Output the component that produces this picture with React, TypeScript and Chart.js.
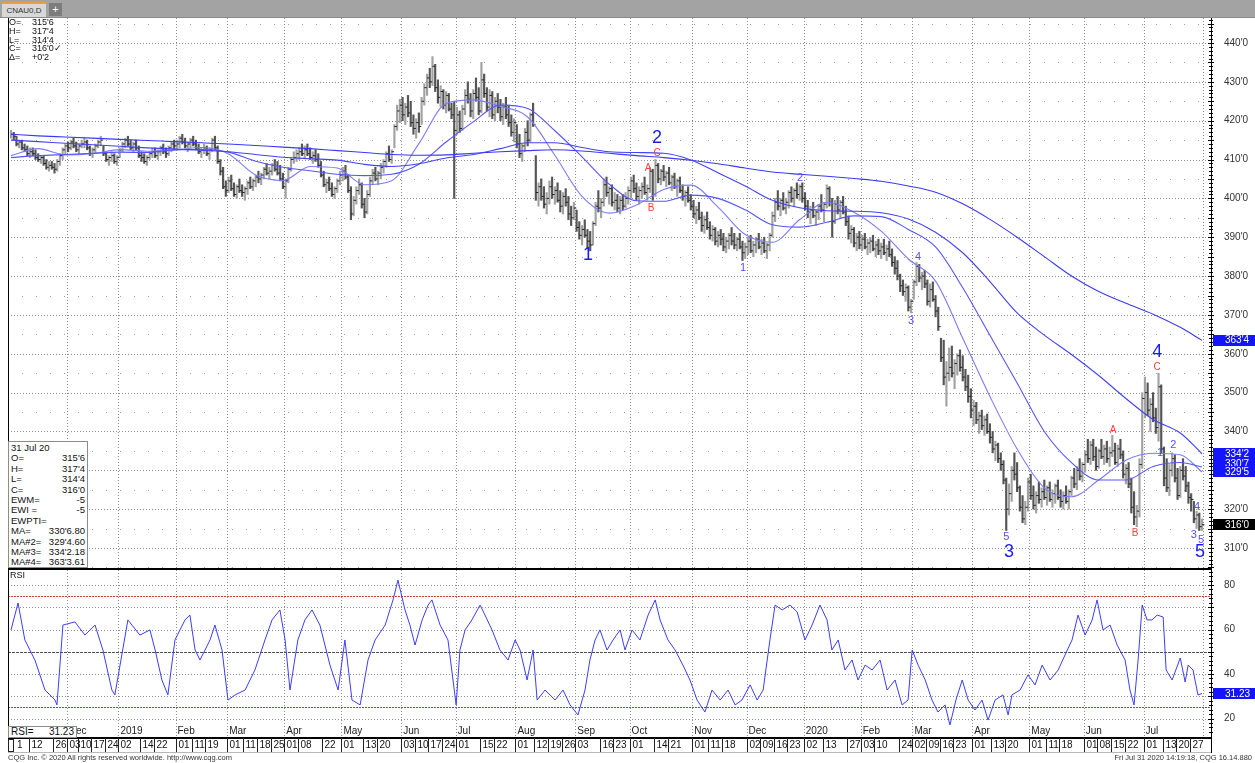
import React, { useEffect, useRef } from 'react';
import { Chart, registerables } from 'chart.js';

Chart.register(...registerables);

const FONT = '"Liberation Sans", Arial, sans-serif';

// ---- x range (trading-day index; 0 = 1 Nov 2018, 438 = 31 Jul 2020)
const X_MIN = -1.1;
const X_MAX = 441.3;
const PRICE_MIN = 304.6;
const PRICE_MAX = 446.43;
const RSI_MIN = 11.24;
const RSI_MAX = 86.74;

// ---- daily bars (cents/bushel)
const highs = [
  417.5,417,416,415,415,414,413.5,413,413,412.5,411.5,411,411,410,409.5,409.5,409,410,411.5,413,414,
  414.5,415,415.5,414.5,414,415,415.5,415,413.5,413,414,415,416,413.5,412,411,412,411.5,411,
  413,414.5,415.5,416,415,414.5,415,413.5,412,411.5,411,412,413,413,412.5,413.5,414,413,413.5,414.5,415,
  415,416,416.5,415.5,414.5,415.5,416,415,414,413,414,413.5,413,415.5,416,413.5,410,408,404.5,
  405.5,406,404,403.5,405,403.5,403,404.5,405.5,405,406,407,406.5,408,409,408,409,410,409.5,408.5,406.5,
  405,408,410.5,412,412.5,413,414,413.5,414,413,412,412.5,411.5,409.5,407,405,405.5,404,403,405,407,
  408,408.5,406,403,400.5,403,405,404,400,402,405.5,407.5,408,407,409,410,412,413.5,412.5,419,424,425.5,
  426,424.5,426.5,425,421.5,420.5,422,426,429.5,432,433.5,436.5,434.5,430.5,429,428,427.5,427,424.5,425,
  423.5,422.5,424,428,430,427,428,431,428.5,435,432,428.5,428,427.5,426,427,425.5,424.5,426,424,421.5,420.5,
  419,416.5,414,418,420,422,424.5,411,404,405,403,401.5,404.5,405.5,403,404,402,401.5,402.5,400.5,398,399,
  397,394,393,394.5,392,391.5,394,399,402,400,405,405.5,403,403.5,401.5,401,400.5,401,401.5,403,
  405.5,406,404,403,404,405.5,403.5,408,407.5,410,409,407.5,408.5,407,408,406,406.5,405,405.5,403.5,402,403,401,
  399.5,398,399,396.5,395.5,396.5,394,393,392.5,391.5,392,391,390,391,392.5,391,390,391,389,388.5,
  390,390.5,389,390,391,389.5,390,388.5,391,396.5,400,402,400,401.5,400,402,403,402.5,404,403.5,404,
  401.5,399.5,398,399,397,398.5,401,399,403.5,403,400,399.5,400.5,399.5,400.5,398,395.5,393,392.5,391,391.5,
  390.5,391,389.5,390,390.5,389,389.5,388.5,389.5,388,389,387,385,384,380.5,379,378,377.5,374,
  379,383.5,383,381,381.5,379,378,378.5,375,372,364,363.5,358,361.5,362,358.5,360,361,359.5,356,354.5,351,
  348,347.5,345,345.5,344,344.5,342,340,337.5,337,334.5,332.5,328,326.5,331,334.5,332,326,323.5,322,328,
  329,326,324.5,327,325.5,327.5,326,327,325,326.5,327.5,325,324.5,326,325,328.5,330.5,331,333,332,
  335,338,337.5,338,336,335.5,338,336.5,337.5,336,339,337,336.5,338,335,331.5,332,328,324.5,321,333,350,
  354,352.5,348.5,350,346,355,352,336,333,331.5,334.5,334,330.5,331,333,331,327,324,322,319.5,319,317.5,
];
const lows = [
  415.5,415,413.5,413,412.5,412,411,410.5,411,410,409.5,409,408.5,407.5,407,407.5,406.5,407,408.5,410,411.5,
  412,412.5,413,412,411.5,413,413,412.5,411,410.5,411.5,413,413.5,411,409.5,408.5,409.5,409,408.5,
  410.5,412,413,413.5,412.5,412,412.5,410.5,409.5,409,408.5,410,410.5,410.5,410,411,411.5,410.5,411,412,412.5,
  412.5,413,414,413,412,413,413.5,412.5,411.5,410.5,411.5,411,410,412,412.5,409,406,402.5,400.5,
  401.5,402,400.5,400,401.5,400.5,399.5,401,402.5,402,403,404,403.5,405,406,405,406,407,406,404.5,402.5,
  400,404,407,409,409.5,410,411,410.5,411,410,409,409.5,408,405.5,403,401.5,402,400.5,400,401.5,403.5,
  404.5,405,401.5,394.5,395.5,398.5,401,397.5,395,396,400.5,403.5,404.5,403.5,405,406.5,408,409.5,409,413,417.5,419.5,
  420,419,421,418.5,416.5,415.5,417,419,424,426.5,428.5,429,427.5,424.5,423.5,423,422,422.5,420.5,400,
  416.5,417,417.5,421.5,424.5,421,420.5,425,421.5,422,426,422.5,421,420.5,420,422,420,419,420.5,418.5,416,414.5,
  413,410.5,409.5,412,413.5,414.5,418.5,399.5,398,399.5,397.5,396,398.5,400,398.5,399,396.5,396,398,394.5,393,394.5,
  391.5,389.5,388,390,387,386.5,388,393,396.5,395,398,400.5,398.5,398,397,396.5,396,397,397.5,398.5,
  400,401.5,399.5,398.5,400,401,399.5,401.5,399.5,400.5,404,403.5,404.5,403,403.5,402,402.5,400.5,401.5,399.5,398,399,397,
  395,393.5,394.5,391.5,391,392,389.5,389,388,387.5,388,386.5,386,387,388,387,386.5,387,384,384.5,
  385.5,386,385,386,387,385.5,386,384.5,386.5,390,394,397,395.5,397,396,397.5,399,398,400,399.5,399,
  397,395,393.5,395,393,394.5,396.5,394,397.5,398,390,393.5,396,395,396,393,389.5,388.5,387.5,386.5,387,
  386.5,387,385.5,386,386.5,385,385.5,384.5,385.5,384,385,382.5,380.5,379,376,375,373.5,371,370.5,
  374,377.5,378.5,376.5,377,372.5,372,373.5,369.5,366,358,352,346.5,353,354,351,354.5,355.5,353,350.5,347.5,343.5,
  341.5,342,339.5,340.5,339,339.5,337,334.5,332.5,332,330,326.5,314.5,318.5,322,327.5,324.5,319.5,316.5,316,319.5,
  322.5,320,319,321.5,320.5,322.5,321,322,320.5,321.5,322.5,320.5,320,321.5,320,323.5,325.5,325,327.5,327,
  329.5,332,331.5,332.5,330,330.5,333,331.5,332,331,333.5,331.5,331,333,328,326.5,325.5,319,316,315.5,318,330.5,
  343.5,344,340,342.5,339.5,337.5,334.5,326,324.5,323.5,328.5,327,322.5,323,327.5,324.5,321.5,319.5,316.5,315,314.5,314.5,
];
const closes = [
  416.5,416,414,414.5,413,412.5,411.5,412,411.5,410.5,410,410.5,409,408,408.5,408,407.5,409.5,411,412.5,413.5,
  413,414.5,413.5,412.5,413.5,414,414.5,413,411.5,412.5,413.5,414.5,415,411.5,410,410.5,411,409.5,410.5,
  412.5,414,415,414,413,414,413,411,410.5,409.5,410.5,411.5,412,411,412,413,412,411.5,413,414,413.5,
  414,415.5,414.5,413.5,414,415,414,413,412,412.5,413,411.5,412.5,415,413,409.5,407,403,402,
  404.5,402.5,401,403,402,401.5,402.5,404,403,404.5,405.5,405,406,407.5,406.5,407,408.5,407.5,406.5,405,403,
  404.5,407.5,410,410.5,411.5,412,411.5,412.5,411.5,410.5,411,410,408.5,406,403.5,404,402.5,401,402.5,404.5,406,
  407,405.5,402,396,399.5,402,403.5,398.5,396.5,401,404.5,406.5,405,406.5,408,409.5,411.5,410,412,418.5,422.5,424,
  421.5,423.5,422,419.5,418,419.5,418.5,425,428.5,431,430,434,428.5,426,427.5,424,426.5,423,421.5,417.5,
  421.5,418,423,426.5,425.5,422.5,427,426,422.5,430.5,427,423.5,426.5,421.5,425,423.5,421,423.5,421.5,419.5,417,419.5,
  414,411.5,413.5,417,415,421.5,419,401.5,403,400.5,398.5,400,403,401,402,399.5,398,400.5,399,396,395,397.5,
  392.5,390.5,392,390.5,389,388,393.5,398,397.5,399,403.5,401.5,402.5,399,399.5,397.5,399.5,398,400,402,
  404.5,402.5,400.5,402,403,401.5,402.5,407,401,408.5,405,407,405.5,406.5,404,405.5,403,404.5,402,400.5,401.5,399.5,398,
  396,397,395,393,394.5,392.5,390.5,392,389,390.5,389.5,387.5,389,390.5,389,388,389.5,387.5,386,387.5,
  389,386.5,388,389.5,387.5,388.5,386.5,388,390.5,395.5,399,398,399.5,397.5,399,401.5,400,402,401,403,400,
  398,396.5,397,395.5,396.5,398,397,398.5,402.5,399,394,398.5,397,399,396.5,394,391,392,388.5,390,388,
  389.5,387.5,388.5,389,387,388,386.5,387.5,386,387,385.5,383.5,382,380,377.5,376,377,372,373.5,
  378.5,382.5,379.5,380,378,373.5,376.5,374,371,367,359,354,355,356.5,355,357.5,359.5,356.5,354,351.5,349,345.5,
  346.5,343,344,341.5,343,340,338.5,335.5,336.5,333,331.5,327.5,320,324,330,329,325.5,320.5,317.5,320.5,327,
  323.5,321,323.5,322.5,324.5,323,325.5,322.5,324,326,323,322,323.5,322,324.5,328,326.5,330,328.5,331.5,
  334,333,336.5,333.5,331,335,333.5,335.5,333,334.5,335,332,335.5,334,329,330.5,326.5,320.5,318,319.5,331.5,348.5,
  350,345.5,347,343.5,341,351.5,335.5,328,325.5,330,333,328,323.5,330,328.5,326,323,322.5,317.5,318.5,315.5,316,
];

// ---- moving averages, read every 10 trading days
const maDays = [0,10,20,30,40,50,60,70,80,90,100,110,120,130,140,150,160,170,180,190,200,210,220,230,240,250,260,270,280,290,300,310,320,330,340,350,360,370,380,390,400,410,420,430,438];
const maFast = [411.0,412.8,411.2,411.5,412.55,412.15,412.4,413.1,411.45,406.0,404.6,408.2,407.8,403.5,404.55,414.1,424.4,425.35,423.65,420.95,411.1,400.5,396.2,398.3,402.3,403.4,397.75,390.7,388.7,394.5,399.0,396.45,391.55,384.4,378.7,364.0,349.0,335.5,325.5,323.2,327.5,332.6,334.4,334.0,329.57];
const maMid = [410.5,411.0,411.3,411.6,411.9,411.8,412.5,412.6,411.9,409.55,408.0,407.1,406.2,405.85,406.2,408.8,414.5,419.7,424.0,423.15,417.4,410.7,403.65,399.4,399.25,400.85,400.0,397.05,393.2,392.6,393.85,395.5,395.3,392.0,387.5,377.0,364.75,352.5,340.0,332.0,327.5,327.5,331.0,332.0,330.85];
const maSlow = [415,414.6,414.2,413.8,413.4,413,412.7,412.4,412,411.3,410.6,410.2,409.85,408.75,408.2,408.9,410.4,411.3,412.8,414.3,414.3,413.1,412.0,411.8,411.6,409.9,406.6,403.2,399.5,397.6,396.8,396.7,396.3,394.7,391.3,386.0,378.6,370.5,364.8,359.8,354.4,348.5,343.1,339.6,334.27];
const maLong = [416.5,416.1,415.8,415.5,415.2,414.9,414.6,414.3,414.0,413.6,413.2,412.8,412.3,411.8,411.3,411.1,411.2,411.6,412.0,412.3,412.5,412.2,411.6,411.0,410.5,409.8,408.9,407.8,406.8,406.2,405.7,405.1,404.4,403.2,401.6,398.6,394.6,390.0,385.0,380.0,376.0,373.0,370.2,366.8,363.45];

// ---- RSI (14)
const rsiDays = [0,2.6,5.1,8.8,12.5,16.2,16.9,19.1,23.5,27.2,30.9,33.8,37.1,38.2,43,47.4,51.1,53,55.5,57.7,60.3,64,65.8,67.7,69.5,73.2,75,77.6,79.8,82.4,86.1,89.7,93.4,96,98.9,100.8,102.6,105.5,108.1,110.7,113.6,117.3,120.3,122.8,125.4,128.4,131.3,133.9,137.6,140.5,142.3,144.9,146.7,148.6,151.2,153.4,154.8,157.8,160.7,163.7,165.1,167,169.5,172.5,174.3,176.9,179.8,182.8,185.4,187.2,189.8,192,193.5,196.4,200.1,203,205.6,208.5,211.1,212.9,214.8,216.6,219.2,221.4,224,225.8,228.4,231.3,234.3,236.9,238.7,241.6,244.2,247.1,249.7,252.3,255.2,257.8,260.8,263.7,266.3,268.8,271.8,274.4,276.6,279.1,281,283.6,286.5,289.1,292,294.6,297.5,300.1,301.9,304.2,306.7,309.3,311.5,314.1,316.7,319.6,322.2,325.1,327.7,329.9,331.4,333.6,336.2,338.7,340.9,343.5,345.3,347.5,349.8,352,354.5,357.1,359.3,361.9,364.8,366.7,368.1,371.1,374,376.6,379.2,382.1,385.1,387.6,390.2,392.4,395,397.6,399.4,401.6,404.2,406.8,409.7,411.5,413,414.5,416,417.8,419.6,421.5,423.7,424.8,427,430,431.8,432.9,434.7,436.5,438];
const rsiValues = [59.8,71.9,55.3,46.3,32.8,28.3,26.1,62,63.4,57.5,62,50.8,32.8,30.6,64.3,57.5,59.8,50.8,37.3,30.6,55.3,64.3,66.5,50.8,46.3,55.3,62,50.8,28.3,30.6,32.8,41.8,55.3,64.3,68.8,55.3,32.8,55.3,64.3,68.8,62,44,32.8,55.3,28.3,26.1,46.3,55.3,62,73.3,82.2,68.8,62,53,64.3,71,73.3,62,55.3,26.1,50.8,59.8,64.3,71,66.5,59.8,50.8,46.3,55.3,50.8,37.3,50.8,28.3,32.8,28.3,32.8,26.1,21.6,32.8,46.3,55.3,59.8,50.8,55.3,59.8,50.8,59.8,55.3,66.5,73.3,64.3,55.3,50.8,44,37.3,28.3,22.9,32.8,28.3,32.8,26.1,28.3,35.1,28.3,32.8,55.3,71,68.8,71,67.9,55.3,62,71,64.3,50.8,55.3,41.8,46.3,37.3,44,41.8,46.3,32.8,37.3,26.1,28.3,50.8,44,37.3,28.3,22.9,26.1,17.1,28.3,37.3,28.3,23.8,28.3,19.3,28.3,30.6,21.6,30.6,32.8,39.6,35.1,44,37.3,41.8,48.5,55.3,66.5,57.5,64.3,73.3,59.8,62,53,46.3,32.8,26.1,46.3,71,64.3,64.3,66.5,65.6,41.8,37.3,47.2,36.4,44,41.8,30.6,31.23];

// ---- axis / label tables
const priceTicks = [310,320,330,340,350,360,370,380,390,400,410,420,430,440];
const priceHalfTicks = [305,315,325,335,345,355,365,375,385,395,405,415,425,435,445];
const rsiTicks = [20,40,60,80];
const rsiGrid = [20,30,40,60,70,80];
const monthStarts = [21,40,61,80,101,122,144,164,186,208,228,251,271,292,313,332,354,375,395,417,439];
const monthLabels = ['Dec','2019','Feb','Mar','Apr','May','Jun','Jul','Aug','Sep','Oct','Nov','Dec','2020','Feb','Mar','Apr','May','Jun','Jul',''];
const dayTickIdx = [0,7,16,21,25,30,35,40,48,53,61,67,72,80,86,91,96,101,106,115,122,130,135,144,149,154,159,164,173,178,186,193,198,203,208,217,222,228,237,242,251,257,262,271,276,281,286,292,299,308,313,318,327,332,337,342,347,354,361,366,375,381,386,395,400,405,410,417,424,429,434];
const dayTickLabels = ['1','12','26','03','10','17','24','02','14','22','01','11','19','01','11','18','25','01','08','22','01','13','20','03','10','17','24','01','15','22','01','12','19','26','03','16','23','01','14','21','01','11','18','02','09','16','23','02','13','27','03','10','24','02','09','16','23','01','13','20','01','11','18','01','08','15','22','01','13','20','27'];

// ---- Elliott wave annotations
const bigWaveText = ['1','2','3','4','5'];
const bigWaveIdx = [212.2,237.6,367,421.5,437.3];
const bigWavePrice = [385.5,415.5,309,360.5,309];
const smallWaveText = ['1','2','3','4','5','1','2','3','4','5'];
const smallWaveIdx = [269.2,290.2,331,333.6,366,422.6,427.4,435,436.2,437.6];
const smallWavePrice = [382.1,405.3,368.4,384.9,312.8,334.4,336.5,313.4,320.6,312];
const abcText = ['A','B','C','A','B','C'];
const abcIdx = [234.3,235.4,237.6,405.3,413.4,421.5];
const abcPrice = [407.8,397.5,411.7,340.4,313.9,356.6];

// ---- right-axis value markers
const markerText = ["363'4", "334'2", "330'7", "329'5", "316'0"];
const markerValue = [363.45, 334.27, 330.85, 329.57, 316];
const markerShift = [0, 0, -3, 0, 0];
const markerColor = ['#1414ff', '#1414ff', '#1414ff', '#1414ff', '#000000'];

const BLUE_LONG = '#3a3af6';
const BLUE_SLOW = '#4242f7';
const BLUE_MID = '#5656f8';
const BLUE_FAST = '#7c7cfa';

function dashedLine(ctx: CanvasRenderingContext2D, x1: number, y1: number, x2: number, y2: number, dash: number[], color: string) {
  ctx.save();
  ctx.setLineDash(dash);
  ctx.strokeStyle = color;
  ctx.lineWidth = 1;
  ctx.beginPath();
  ctx.moveTo(x1, y1);
  ctx.lineTo(x2, y2);
  ctx.stroke();
  ctx.restore();
}

const mainDecor = {
  id: 'mainDecor',
  beforeDatasetsDraw(chart: any) {
    const { ctx, chartArea: a, scales } = chart;
    const x = scales.x, y = scales.y;
    for (const v of priceTicks) {
      const py = Math.round(y.getPixelForValue(v)) + 0.5;
      dashedLine(ctx, a.left, py, a.right, py, [1, 2], '#8f8f8f');
    }
    for (const v of priceHalfTicks) {
      const py = Math.round(y.getPixelForValue(v)) + 0.5;
      dashedLine(ctx, a.left, py, a.right, py, [1, 13], '#a0a0a0');
    }
    for (const m of monthStarts) {
      const px = Math.round(x.getPixelForValue(m - 0.5)) + 0.5;
      dashedLine(ctx, px, a.top, px, a.bottom, [1, 2], '#8f8f8f');
    }
  },
  afterDraw(chart: any) {
    const { ctx, chartArea: a, scales } = chart;
    const x = scales.x, y = scales.y;
    ctx.save();
    ctx.fillStyle = '#000';
    ctx.fillRect(a.left, a.top, 1, a.bottom - a.top);
    ctx.fillRect(a.left, 568, a.right - a.left + 1, 2);
    ctx.strokeStyle = '#000';
    ctx.lineWidth = 1;
    for (let v = 305; v <= 446; v += 1) {
      const py = Math.round(y.getPixelForValue(v)) + 0.5;
      const len = v % 5 === 0 ? 3 : 2;
      ctx.beginPath();
      ctx.moveTo(a.right - len, py);
      ctx.lineTo(a.right + len, py);
      ctx.stroke();
    }
    ctx.textAlign = 'center';
    ctx.textBaseline = 'middle';
    ctx.font = `18px ${FONT}`;
    ctx.fillStyle = '#1a1aff';
    bigWaveText.forEach((t, i) => ctx.fillText(t, x.getPixelForValue(bigWaveIdx[i]), y.getPixelForValue(bigWavePrice[i])));
    ctx.font = `11px ${FONT}`;
    ctx.fillStyle = '#5050ff';
    smallWaveText.forEach((t, i) => ctx.fillText(t, x.getPixelForValue(smallWaveIdx[i]), y.getPixelForValue(smallWavePrice[i])));
    ctx.font = `10px ${FONT}`;
    ctx.fillStyle = '#ff3b3b';
    abcText.forEach((t, i) => ctx.fillText(t, x.getPixelForValue(abcIdx[i]), y.getPixelForValue(abcPrice[i])));
    ctx.textAlign = 'left';
    ctx.font = `10px ${FONT}`;
    markerText.forEach((t, i) => {
      const py = y.getPixelForValue(markerValue[i]) + markerShift[i];
      ctx.fillStyle = markerColor[i];
      ctx.fillRect(a.right + 2, Math.round(py - 5.5), 1255 - a.right - 2, 11);
      ctx.fillStyle = '#fff';
      ctx.fillText(t, a.right + 14, Math.round(py) + 0.5);
    });
    ctx.restore();
  },
};

const rsiDecor = {
  id: 'rsiDecor',
  beforeDatasetsDraw(chart: any) {
    const { ctx, chartArea: a, scales } = chart;
    const x = scales.x, y = scales.y;
    for (const v of rsiGrid) {
      const py = Math.round(y.getPixelForValue(v)) + 0.5;
      dashedLine(ctx, a.left, py, a.right, py, [1, 2], '#8f8f8f');
    }
    const p50 = Math.round(y.getPixelForValue(50)) + 0.5;
    const p75 = Math.round(y.getPixelForValue(75)) + 0.5;
    const p25 = Math.round(y.getPixelForValue(25)) + 0.5;
    dashedLine(ctx, a.left, p50, a.right, p50, [3, 1], '#505050');
    dashedLine(ctx, a.left, p75, a.right, p75, [2, 1], '#e23b3b');
    dashedLine(ctx, a.left, p25, a.right, p25, [2, 1], '#4a4aff');
    for (const m of monthStarts) {
      const px = Math.round(x.getPixelForValue(m - 0.5)) + 0.5;
      dashedLine(ctx, px, a.top, px, a.bottom, [1, 2], '#8f8f8f');
    }
  },
  afterDraw(chart: any) {
    const { ctx, chartArea: a, scales } = chart;
    const x = scales.x, y = scales.y;
    ctx.save();
    ctx.fillStyle = '#000';
    ctx.fillRect(a.left, a.top, 1, a.bottom - a.top + 14);
    ctx.strokeStyle = '#000';
    ctx.lineWidth = 1;
    for (let v = 14; v <= 86; v += 2) {
      const py = Math.round(y.getPixelForValue(v)) + 0.5;
      const len = v % 10 === 0 ? 3 : 2;
      ctx.beginPath();
      ctx.moveTo(a.right - len, py);
      ctx.lineTo(a.right + len, py);
      ctx.stroke();
    }
    ctx.font = `10px ${FONT}`;
    ctx.fillStyle = '#222';
    ctx.textAlign = 'left';
    ctx.textBaseline = 'middle';
    monthStarts.forEach((m, i) => {
      if (!monthLabels[i]) return;
      ctx.fillText(monthLabels[i], x.getPixelForValue(m - 0.5) + 2, a.bottom - 7);
    });
    const top = a.bottom;
    ctx.fillStyle = '#000';
    ctx.fillRect(a.left, top - 1, a.right - a.left + 1, 2);
    ctx.fillStyle = '#b8b8b8';
    ctx.fillRect(a.left, top + 14, a.right - a.left + 1, 1);
    ctx.strokeStyle = '#222';
    ctx.strokeRect(a.left + 0.5, top + 1.5, 5, 12);
    ctx.fillStyle = '#111';
    dayTickIdx.forEach((d, i) => {
      const px = Math.round(x.getPixelForValue(d - 0.5)) + 0.5;
      if (d > 0) {
        ctx.beginPath();
        ctx.moveTo(px, top);
        ctx.lineTo(px, top + 14);
        ctx.stroke();
        ctx.fillText(dayTickLabels[i], px + 2, top + 7.5);
      } else {
        ctx.fillText(dayTickLabels[i], a.left + 9, top + 7.5);
      }
    });
    ctx.fillStyle = '#000';
    ctx.fillRect(a.right, top, 1, 15);
    ctx.font = `9px ${FONT}`;
    ctx.fillStyle = '#111';
    ctx.fillText('RSI', a.left + 2, a.top + 6);
    const py = y.getPixelForValue(31.23);
    ctx.fillStyle = '#1414ff';
    ctx.fillRect(a.right + 2, Math.round(py - 5.5), 1255 - a.right - 2, 11);
    ctx.fillStyle = '#fff';
    ctx.font = `10px ${FONT}`;
    ctx.fillText('31.23', a.right + 14, Math.round(py) + 0.5);
    ctx.restore();
  },
};

function axisY(min: number, max: number, ticks: number[], fmt: (v: number) => string) {
  return {
    type: 'linear',
    position: 'right',
    min,
    max,
    bounds: 'data',
    afterFit(s: any) {
      s.width = 44;
      s.paddingTop = 0;
      s.paddingBottom = 0;
    },
    afterBuildTicks(s: any) { s.ticks = ticks.map((v) => ({ value: v })); },
    ticks: { callback: (v: any) => fmt(Number(v)), font: { family: FONT, size: 10 }, color: '#333', padding: 13 },
    grid: { display: false, drawTicks: false },
    border: { display: true, color: '#000', width: 1 },
  };
}

const axisX = { type: 'linear', min: X_MIN, max: X_MAX, bounds: 'data', offset: false, display: false, grid: { offset: false } };

export default function App() {
  const mainRef = useRef<HTMLCanvasElement | null>(null);
  const rsiRef = useRef<HTMLCanvasElement | null>(null);

  useEffect(() => {
    const barColors = closes.map((c, i) => (i > 0 && c < closes[i - 1] ? '#555555' : '#a2a2a2'));
    const lineDs = (label: string, vals: number[], color: string) => ({
      type: 'line',
      label,
      data: maDays.map((d, i) => ({ x: d, y: vals[i] })),
      borderColor: color,
      borderWidth: 1.1,
      pointRadius: 0,
      cubicInterpolationMode: 'monotone',
      order: 1,
    });
    const main = new Chart(mainRef.current as HTMLCanvasElement, {
      type: 'bar',
      data: {
        datasets: [
          lineDs('MA#4', maLong, BLUE_LONG),
          lineDs('MA#3', maSlow, BLUE_SLOW),
          lineDs('MA', maMid, BLUE_MID),
          lineDs('MA#2', maFast, BLUE_FAST),
          {
            type: 'bar',
            label: 'Range',
            data: highs.map((h, i) => ({ x: i, y: [lows[i], h] })),
            backgroundColor: barColors,
            borderWidth: 0,
            barThickness: 1.5,
            order: 3,
          },
          {
            type: 'line',
            label: 'Close',
            data: closes.map((c, i) => ({ x: i + 0.45, y: c })),
            showLine: false,
            pointStyle: 'line',
            pointRadius: 1.2,
            pointBorderWidth: 1,
            pointBorderColor: '#222',
            borderColor: '#222',
            order: 2,
          },
        ] as any,
      },
      options: {
        animation: false,
        responsive: false,
        devicePixelRatio: 1,
        layout: { autoPadding: false, padding: { left: 8, top: 18, right: 0, bottom: 1 } },
        plugins: { legend: { display: false }, tooltip: { enabled: false } },
        scales: {
          x: axisX,
          y: axisY(PRICE_MIN, PRICE_MAX, priceTicks, (v) => `${v}'0`),
        } as any,
      },
      plugins: [mainDecor],
    } as any);

    const rsi = new Chart(rsiRef.current as HTMLCanvasElement, {
      type: 'line',
      data: {
        datasets: [
          {
            label: 'RSI',
            data: rsiDays.map((d, i) => ({ x: d, y: rsiValues[i] })),
            borderColor: '#3c3cff',
            borderWidth: 1,
            pointRadius: 0,
            tension: 0,
          },
        ],
      },
      options: {
        animation: false,
        responsive: false,
        devicePixelRatio: 1,
        layout: { autoPadding: false, padding: { left: 8, top: 0, right: 0, bottom: 25 } },
        plugins: { legend: { display: false }, tooltip: { enabled: false } },
        scales: {
          x: axisX,
          y: axisY(RSI_MIN, RSI_MAX, rsiTicks, (v) => `${v}`),
        } as any,
      },
      plugins: [rsiDecor],
    } as any);

    return () => {
      main.destroy();
      rsi.destroy();
    };
  }, []);

  const txt: React.CSSProperties = { fontFamily: FONT, fontSize: 9, color: '#111', whiteSpace: 'pre' };
  const infoRows = [['O=', "315'6"], ['H=', "317'4"], ['L=', "314'4"], ['C=', "316'0\u2713"], ['\u0394=', "+0'2"]];
  const boxRows = [
    ['O=', "315'6"], ['H=', "317'4"], ['L=', "314'4"], ['C=', "316'0"], ['EWM=', '-5'], ['EWI =', '-5'], ['EWPTI=', ''],
    ['MA=', "330'6.80"], ['MA#2=', "329'4.60"], ['MA#3=', "334'2.18"], ['MA#4=', "363'3.61"],
  ];

  return (
    <div style={{ position: 'fixed', left: 0, top: 0, width: 1255, height: 763, background: '#fff', overflow: 'hidden' }}>
      <canvas ref={mainRef} width={1255} height={570} style={{ position: 'absolute', left: 0, top: 0, display: 'block' }} />
      <canvas ref={rsiRef} width={1255} height={193} style={{ position: 'absolute', left: 0, top: 570, display: 'block' }} />

      <div style={{ position: 'absolute', left: 0, top: 0, width: 1255, height: 17, background: '#a3a3a3', borderBottom: '1px solid #8a8a8a' }}>
        <div style={{ position: 'absolute', left: 2, top: 2, width: 44, height: 13, background: '#d8d8d8', borderTop: '2px solid #e8a040', fontFamily: FONT, fontSize: 8, lineHeight: '13px', textAlign: 'center', color: '#333' }}>CNAU0,D</div>
        <div style={{ position: 'absolute', left: 49, top: 3, width: 13, height: 13, background: '#7c7c7c', fontFamily: FONT, fontSize: 11, lineHeight: '13px', textAlign: 'center', color: '#fff' }}>+</div>
      </div>

      <div style={{ position: 'absolute', left: 9, top: 18, width: 50 }}>
        {infoRows.map((r, i) => (
          <div key={i} style={{ ...txt, height: 8.8, lineHeight: '8.8px', position: 'relative' }}>
            <span>{r[0]}</span>
            <span style={{ position: 'absolute', left: 23 }}>{r[1]}</span>
          </div>
        ))}
      </div>

      <div style={{ position: 'absolute', left: 8, top: 441, width: 80, height: 127, background: '#fff', border: '1px solid #8c8c8c', boxSizing: 'border-box', padding: '1px 2px 0 2px' }}>
        <div style={{ ...txt, fontSize: 9.5, height: 10.4, lineHeight: '10.4px' }}>31 Jul 20</div>
        {boxRows.map((r, i) => (
          <div key={i} style={{ ...txt, fontSize: 9.5, height: 10.4, lineHeight: '10.4px', display: 'flex', justifyContent: 'space-between' }}>
            <span>{r[0]}</span>
            <span>{r[1]}</span>
          </div>
        ))}
      </div>

      <div style={{ position: 'absolute', left: 8, top: 726, width: 69, height: 12, background: '#fff', border: '1px solid #8c8c8c', boxSizing: 'border-box', display: 'flex', justifyContent: 'space-between', padding: '0 2px' }}>
        <span style={{ ...txt, fontSize: 10, lineHeight: '10px' }}>RSI=</span>
        <span style={{ ...txt, fontSize: 10, lineHeight: '10px' }}>31.23</span>
      </div>

      <div style={{ position: 'absolute', left: 8, top: 753, ...txt, fontSize: 7.5, color: '#333' }}>CQG Inc. © 2020 All rights reserved worldwide. http://www.cqg.com</div>
      <div style={{ position: 'absolute', right: 3, top: 753, ...txt, fontSize: 7.5, color: '#333' }}>Fri Jul 31 2020 14:19:18, CQG 16.14.880</div>
    </div>
  );
}
